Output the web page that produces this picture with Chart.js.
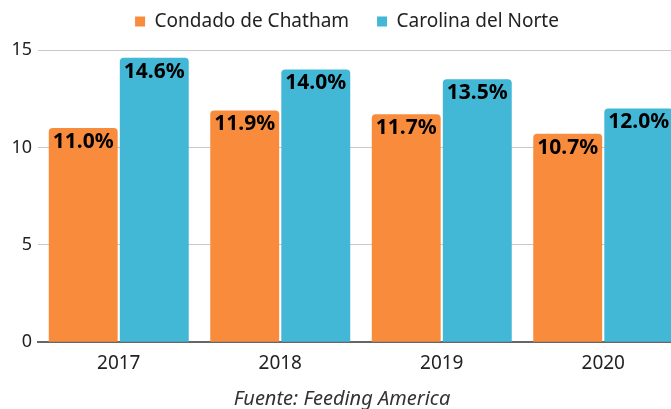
<!DOCTYPE html>
<html><head><meta charset="utf-8">
<script src="https://cdn.jsdelivr.net/npm/chart.js@4"></script>
<style>
html,body{margin:0;padding:0;background:#fff;overflow:hidden;}
#wrap{position:relative;width:684px;height:409px;}
</style></head>
<body><div id="wrap"><canvas id="c"></canvas></div>
<script>
const categories = ["2017","2018","2019","2020"];
const chatham = [11.0, 11.9, 11.7, 10.7];
const northCarolina = [14.6, 14.0, 13.5, 12.0];
const seriesNames = ["Condado de Chatham","Carolina del Norte"];
const yTicks = [0,5,10,15];
const sourceText = "Fuente: Feeding America";

const FONT = "'Noto Sans', sans-serif";

const labelPlugin = {
  id:'barLabels',
  afterDatasetsDraw(chart){
    const ctx = chart.ctx;
    ctx.save();
    ctx.font = "bold 21px 'Noto Sans', sans-serif";
    ctx.fillStyle = '#000';
    ctx.textAlign = 'center';
    ctx.textBaseline = 'middle';
    chart.data.datasets.forEach((ds,i)=>{
      chart.getDatasetMeta(i).data.forEach((bar,j)=>{
        ctx.fillText(ds.data[j].toFixed(1)+'%', bar.x, bar.y+14);
      });
    });
    ctx.restore();
  }
};

const legendHeightPlugin = {
  id:'legendHeight',
  afterInit(chart){
    const lg = chart.legend;
    if(!lg) return;
    const orig = lg.fit;
    lg.fit = function(){ orig.call(this); this.height = 66; };
    const origDraw = lg.draw;
    lg.draw = function(...a){ const c=this.ctx; c.save(); c.translate(5,0); origDraw.apply(this,a); c.restore(); };
  }
};

new Chart(document.getElementById('c'),{
  type:'bar',
  data:{
    labels:categories,
    datasets:[
      {label:seriesNames[0],data:chatham,backgroundColor:'#F98C3C'},
      {label:seriesNames[1],data:northCarolina,backgroundColor:'#42B7D6'}
    ]
  },
  options:{
    responsive:true,maintainAspectRatio:false,animation:false,
    layout:{padding:{left:0,right:0,top:-16,bottom:-2}},
    datasets:{bar:{categoryPercentage:0.88,barPercentage:0.97,borderRadius:{topLeft:4,topRight:4},borderSkipped:'start'}},
    plugins:{
      legend:{position:'top',labels:{boxWidth:10,boxHeight:10,color:'#222',font:{family:FONT,size:19},padding:28}},
      title:{display:true,position:'bottom',text:sourceText,color:'#333',font:{family:FONT,size:20,style:'italic',weight:'normal'},padding:{top:2,bottom:0}},
      tooltip:{enabled:false}
    },
    scales:{
      x:{grid:{display:false,drawTicks:false},border:{display:true,color:'#666',width:2},
         ticks:{color:'#222',font:{family:FONT,size:19},padding:10}},
      y:{min:0,max:15,afterBuildTicks(s){s.ticks=yTicks.map(v=>({value:v}));},
         afterFit(s){s.width=38;},
         grid:{color:'#c8c8c8',drawTicks:false},border:{display:false},
         ticks:{color:'#222',font:{family:FONT,size:18},padding:6}}
    }
  },
  plugins:[labelPlugin,legendHeightPlugin]
});
</script></body></html>
